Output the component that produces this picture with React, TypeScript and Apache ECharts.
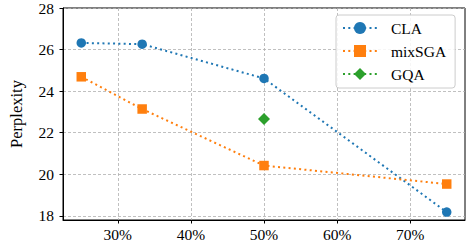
import React, { useEffect, useRef } from "react";
import * as echarts from "echarts";

const seriesNames = ["CLA", "mixSGA", "GQA"];
const claX = [25, 33.33, 50, 75];
const claY = [26.32, 26.26, 24.61, 18.18];
const mixX = [25, 33.33, 50, 75];
const mixY = [24.69, 23.14, 20.42, 19.53];
const gqaX = [50];
const gqaY = [22.66];
const xTicks = [30, 40, 50, 60, 70];
const yTicks = [18, 20, 22, 24, 26, 28];
const colors = ["#1f77b4", "#ff7f0e", "#2ca02c"];

const FONT = "Liberation Serif, Times New Roman, serif";

function pairs(xs: number[], ys: number[]) {
  return xs.map((x, i) => [x, ys[i]]);
}

export default function App() {
  const ref = useRef<HTMLDivElement>(null);
  useEffect(() => {
    if (!ref.current) return;
    const chart = echarts.init(ref.current, null, { renderer: "svg" });
    const gridLine = { show: true, lineStyle: { color: "#b0b0b0", type: [3, 2] as any, width: 0.8 } };
    const mk = (i: number, xs: number[], ys: number[], symbol: string, size: number) => ({
      name: seriesNames[i],
      type: "line",
      data: pairs(xs, ys),
      symbol,
      symbolSize: size,
      showSymbol: true,
      itemStyle: { color: colors[i] },
      lineStyle: { color: colors[i], width: 2, type: [2, 3.3] as any },
      z: 3,
    });
    chart.setOption({
      animation: false,
      backgroundColor: "#fff",
      textStyle: { fontFamily: FONT },
      grid: {
        left: 47, right: 2, top: 7, bottom: 25,
        show: true, borderColor: "#000", borderWidth: 1, backgroundColor: "transparent",
      },
      legend: {
        orient: "vertical",
        left: 336, top: 15,
        data: seriesNames,
        itemWidth: 34, itemHeight: 15, itemGap: 7,
        padding: [5, 9, 6, 6],
        backgroundColor: "rgba(255,255,255,0.85)",
        borderColor: "#cccccc", borderWidth: 1, borderRadius: 3,
        formatter: (name: string) => `{s| }{t|${name}}`,
        textStyle: {
          fontFamily: FONT, fontSize: 15.5, color: "#000",
          rich: {
            s: { width: 9, fontSize: 15.5, lineHeight: 16 },
            t: { fontFamily: FONT, fontSize: 15.5, color: "#000", lineHeight: 16 },
          },
        },
      },
      xAxis: {
        type: "value",
        min: 22.5, max: 77.5,
        axisLine: { show: true, lineStyle: { color: "#000", width: 1 } },
        axisTick: { show: true, inside: false, length: 3.5, lineStyle: { color: "#000" }, customValues: xTicks },
        axisLabel: {
          customValues: xTicks, margin: 6, color: "#000", fontFamily: FONT, fontSize: 15.5,
          formatter: (v: number) => `${v}%`,
        },
        splitLine: gridLine,
      },
      yAxis: {
        type: "value",
        min: 17.8, max: 28,
        name: "Perplexity",
        nameLocation: "middle",
        nameGap: 38,
        nameTextStyle: { fontFamily: FONT, fontSize: 16.5, color: "#000" },
        axisLine: { show: true, lineStyle: { color: "#000", width: 1 } },
        axisTick: { show: true, inside: false, length: 3.5, lineStyle: { color: "#000" }, customValues: yTicks },
        axisLabel: { customValues: yTicks, margin: 9, color: "#000", fontFamily: FONT, fontSize: 15.5 },
        splitLine: gridLine,
      },
      series: [
        mk(0, claX, claY, "circle", 9.5),
        mk(1, mixX, mixY, "rect", 9.5),
        mk(2, gqaX, gqaY, "diamond", 12),
      ],
    });
    return () => chart.dispose();
  }, []);
  return <div ref={ref} style={{ width: 467, height: 245, position: "absolute", left: 0, top: 0 }} />;
}
